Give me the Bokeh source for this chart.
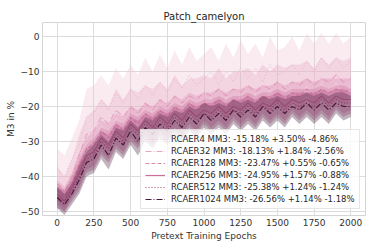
from bokeh.plotting import figure
from bokeh.models import FixedTicker, Legend, LegendItem, Spacer
from bokeh.layouts import column, row
from bokeh.embed import file_html
from bokeh.resources import INLINE

epochs = list(range(0, 2001, 50))

labels = [
    "RCAER4 MM3: -15.18% +3.50% -4.86%",
    "RCAER32 MM3: -18.13% +1.84% -2.56%",
    "RCAER128 MM3: -23.47% +0.55% -0.65%",
    "RCAER256 MM3: -24.95% +1.57% -0.88%",
    "RCAER512 MM3: -25.38% +1.24% -1.24%",
    "RCAER1024 MM3: -26.56% +1.14% -1.18%",
]

m4 = [-38, -40, -35, -31, -23, -22, -18, -21, -16, -19, -15, -18, -14, -17, -13, -16, -12, -15, -11, -14, -12,
      -10, -14, -10, -13, -9, -12, -9, -13, -8, -11, -10, -8, -11, -7, -10, -6, -9, -6, -9, -7]
up4 = [-32, -34, -29, -24, -15, -14, -11, -14, -9, -12, -8, -11, -6, -10, -5, -9, -4, -8, -3, -7, -5,
       -3, -7, -2, -6, -1, -5, -2, -6, 0, -4, -3, 0, -4, 1, -2, 1, -2, 1, -2, 0]
lo4 = [-44, -46, -41, -37, -31, -29, -25, -28, -23, -26, -22, -25, -21, -24, -20, -23, -19, -22, -18, -21, -19,
       -17, -21, -17, -20, -16, -19, -16, -20, -15, -18, -17, -15, -18, -14, -17, -13, -16, -13, -16, -14]

m32 = [-42, -44, -40, -34, -28, -27, -23, -25, -21, -23, -20, -22, -19, -21, -18, -20, -17, -19, -17, -18, -16,
       -17, -15, -17, -15, -16, -14, -16, -14, -15, -13, -15, -13, -14, -12, -14, -12, -13, -11, -13, -12]
up32 = [-37, -40, -35, -28, -23, -21, -18, -20, -15, -18, -15, -16, -14, -15, -13, -15, -11, -14, -12, -12, -11,
        -12, -9, -12, -10, -10, -9, -11, -8, -10, -8, -9, -8, -8, -7, -9, -6, -8, -6, -7, -6]
lo32 = [-47, -48, -45, -39, -33, -32, -28, -30, -27, -28, -25, -27, -24, -26, -23, -25, -22, -24, -22, -23, -21,
        -22, -20, -22, -20, -21, -19, -21, -19, -20, -18, -20, -18, -19, -17, -19, -17, -18, -16, -18, -17]

m128 = [-44, -46, -42, -37, -32, -31, -27, -29, -25, -27, -23, -25, -22, -24, -21, -23, -20, -22, -19, -21, -19,
        -20, -18, -20, -18, -19, -17, -19, -17, -18, -16, -18, -16, -17, -15, -17, -15, -16, -15, -16, -15]
up128 = [-41, -43, -39, -33, -29, -27, -24, -25, -22, -23, -20, -21, -19, -20, -18, -19, -17, -18, -16, -17, -16,
         -16, -15, -16, -15, -15, -14, -15, -14, -14, -13, -14, -13, -13, -12, -13, -12, -12, -12, -12, -12]
lo128 = [-47, -49, -45, -41, -36, -34, -31, -33, -28, -31, -26, -29, -25, -28, -24, -27, -23, -26, -22, -25, -22,
         -24, -21, -24, -21, -23, -20, -23, -20, -22, -19, -22, -19, -21, -18, -21, -18, -20, -18, -20, -18]

m256 = [-45, -47, -43, -39, -34, -33, -29, -31, -27, -29, -25, -27, -24, -26, -23, -25, -22, -24, -21, -23, -21,
        -22, -20, -22, -20, -21, -19, -21, -19, -20, -18, -20, -18, -19, -18, -19, -17, -19, -17, -18, -18]
up256 = [-42, -44, -40, -35, -31, -29, -26, -27, -24, -25, -22, -23, -21, -22, -20, -21, -19, -20, -18, -19, -18,
         -18, -17, -18, -17, -17, -16, -17, -16, -16, -15, -16, -15, -15, -15, -15, -14, -15, -14, -14, -15]
lo256 = [-48, -50, -46, -43, -38, -37, -33, -35, -31, -33, -29, -31, -28, -30, -27, -29, -26, -28, -25, -27, -24,
         -26, -24, -26, -23, -25, -23, -25, -22, -24, -22, -24, -21, -23, -21, -23, -21, -23, -20, -22, -21]

m512 = [-46, -47, -44, -40, -35, -34, -30, -32, -28, -30, -26, -28, -25, -27, -24, -26, -23, -25, -22, -24, -22,
        -23, -21, -23, -21, -22, -20, -22, -20, -21, -19, -21, -19, -20, -19, -20, -18, -20, -18, -19, -19]
up512 = [-43, -44, -41, -36, -32, -30, -27, -28, -25, -26, -23, -24, -22, -23, -21, -22, -20, -21, -19, -20, -19,
         -19, -18, -19, -18, -18, -17, -18, -17, -17, -16, -17, -16, -16, -16, -16, -15, -16, -15, -15, -16]
lo512 = [-49, -50, -47, -44, -39, -38, -34, -36, -32, -34, -30, -32, -29, -31, -28, -30, -27, -29, -26, -28, -25,
         -27, -25, -27, -24, -26, -24, -26, -23, -25, -23, -25, -22, -24, -22, -24, -22, -24, -21, -23, -22]

m1024 = [-46, -48, -45, -41, -36, -35, -31, -34, -29, -31, -27, -30, -26, -28, -25, -27, -24, -26, -23, -25, -22,
         -24, -22, -24, -21, -23, -21, -23, -20, -22, -20, -22, -20, -21, -19, -21, -19, -21, -19, -20, -20]
up1024 = [-43, -45, -42, -37, -33, -31, -28, -30, -26, -27, -24, -26, -23, -24, -22, -23, -21, -22, -20, -21, -19,
          -20, -19, -20, -18, -19, -18, -19, -17, -18, -17, -18, -17, -17, -16, -17, -16, -17, -16, -16, -17]
lo1024 = [-49, -51, -48, -45, -40, -39, -35, -38, -33, -35, -31, -34, -30, -32, -29, -31, -28, -30, -27, -29, -26,
          -28, -26, -28, -25, -27, -25, -27, -24, -26, -24, -26, -23, -25, -23, -25, -23, -25, -22, -24, -23]

means = [m4, m32, m128, m256, m512, m1024]
uppers = [up4, up32, up128, up256, up512, up1024]
lowers = [lo4, lo32, lo128, lo256, lo512, lo1024]

colors = ["#efc3d6", "#e6a6c2", "#db8bb0", "#c96f9a", "#b04a80", "#461a3a"]
dashes = ["1 2", "6 2 1 2", "4 2", "solid", "1 2", "6 2 1 2"]

x_ticks = [0, 250, 500, 750, 1000, 1250, 1500, 1750, 2000]
y_ticks = [0, -10, -20, -30, -40, -50]

p = figure(frame_width=323, frame_height=193, x_range=(-100, 2100), y_range=(-51.14, 4.0),
           output_backend="svg", toolbar_location=None, title="Patch_camelyon",
           min_border_left=0, min_border_right=1, min_border_top=0, min_border_bottom=0)

p.title.align = "center"
p.title.text_font = "DejaVu Sans"
p.title.text_font_size = "10px"
p.title.text_font_style = "normal"
p.title.text_color = "#262626"
p.title.standoff = 2

p.background_fill_color = "white"
p.outline_line_color = "#d5d5d5"
p.outline_line_width = 1

for ax in (p.xaxis[0], p.yaxis[0]):
    ax.axis_line_color = None
    ax.major_tick_line_color = None
    ax.minor_tick_line_color = None
    ax.major_tick_out = 0
    ax.major_tick_in = 0
    ax.minor_tick_out = 0
    ax.minor_tick_in = 0
    ax.major_label_text_font = "DejaVu Sans"
    ax.major_label_text_font_size = "9px"
    ax.major_label_text_color = "#333333"
    ax.axis_label_text_font = "DejaVu Sans"
    ax.axis_label_text_font_size = "9px"
    ax.axis_label_text_font_style = "normal"
    ax.axis_label_text_color = "#333333"
    ax.major_label_standoff = 3
    ax.axis_label_standoff = 2

p.xaxis.ticker = FixedTicker(ticks=x_ticks)
p.yaxis.ticker = FixedTicker(ticks=y_ticks)
p.yaxis.major_label_overrides = {t: ("\u2212" + str(-t) if t < 0 else str(t)) for t in y_ticks}
p.xaxis.axis_label = "Pretext Training Epochs"
p.yaxis.axis_label = "M3 in %"

p.xgrid.grid_line_color = "#dcdcdc"
p.ygrid.grid_line_color = "#dcdcdc"
p.xgrid.grid_line_width = 1
p.ygrid.grid_line_width = 1

items = []
for lab, m, up, lo, c, d in zip(labels, means, uppers, lowers, colors, dashes):
    p.varea(x=epochs, y1=lo, y2=up, fill_color=c, fill_alpha=0.33)
    r = p.line(epochs, m, line_color=c, line_width=1.2, line_dash=d)
    items.append(LegendItem(label=lab, renderers=[r]))

legend = Legend(items=items, location=(98, 6))
legend.label_text_font = "DejaVu Sans"
legend.label_text_font_size = "8.5px"
legend.label_text_color = "#262626"
legend.glyph_width = 20
legend.glyph_height = 10
legend.label_height = 10
legend.spacing = 2
legend.padding = 4
legend.margin = 0
legend.label_standoff = 6
legend.background_fill_color = "white"
legend.background_fill_alpha = 0.8
legend.border_line_color = "#cccccc"
legend.border_line_width = 1
p.add_layout(legend)

page = column(Spacer(height=7, width=10), row(Spacer(width=2, height=10), p))

open("out.html", "w").write(file_html(page, INLINE))
